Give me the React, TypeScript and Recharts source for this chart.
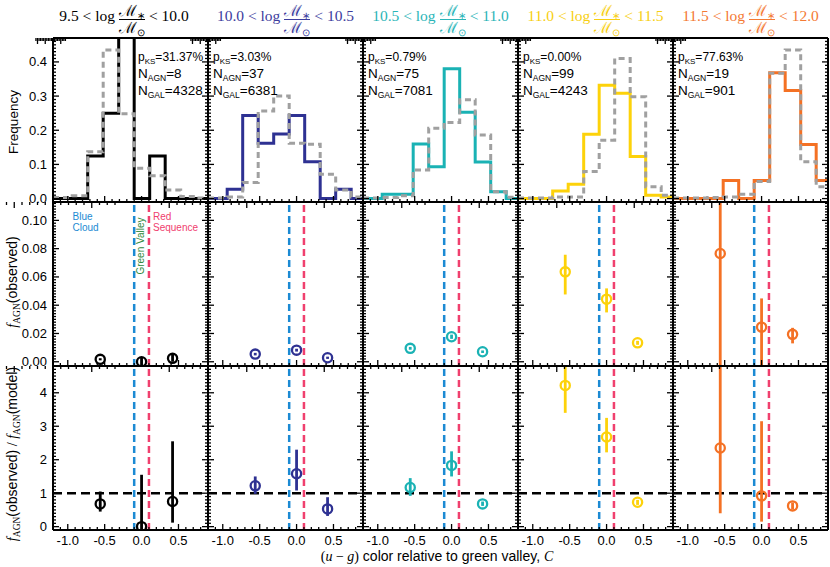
import React from 'react';
import { ComposedChart, Line, Scatter, XAxis, YAxis, ReferenceLine, ErrorBar } from 'recharts';

// ---------- categories / labels ----------
const massLow = ['9.5', '10.0', '10.5', '11.0', '11.5'];
const massHigh = ['10.0', '10.5', '11.0', '11.5', '12.0'];
const pKS = ['31.37%', '3.03%', '0.79%', '0.00%', '77.63%'];
const nAGN = ['8', '37', '75', '99', '19'];
const nGAL = ['4328', '6381', '7081', '4243', '901'];

// ---------- colours ----------
const seriesColors = ['#000000', '#2e3192', '#1ab2b4', '#fdd20a', '#f47124'];
const titleColors = ['#000000', '#3d3d9e', '#2bb5b8', '#f7cf12', '#f47a34'];
const galColor = '#a0a0a0';
const blueCloudColor = '#1c8ad3';
const redSeqColor = '#f0406e';
const greenValleyColor = '#2f8a3c';

// ---------- histogram bins (colour C) ----------
const binEdges = [-1.2, -0.94, -0.73, -0.52, -0.31, -0.1, 0.11, 0.32, 0.53, 0.74, 0.9];

// AGN-host frequency per mass bin (one row per column)
const agnHist = [
  [0, 0, 0.125, 0.25, 0.5, 0, 0.125, 0, 0, 0],
  [0, 0.027, 0.243, 0.162, 0.189, 0.243, 0.108, 0, 0.027, 0],
  [0, 0.013, 0.013, 0.16, 0.093, 0.38, 0.253, 0.107, 0.02, 0],
  [0, 0, 0.022, 0.042, 0.188, 0.332, 0.308, 0.123, 0.01, 0.005],
  [0, 0, 0, 0.053, 0, 0.053, 0.368, 0.316, 0.158, 0.053],
];
// all-galaxy frequency per mass bin
const galHist = [
  [0.003, 0.008, 0.137, 0.435, 0.248, 0.089, 0.067, 0.025, 0.006, 0.002],
  [0.002, 0.005, 0.047, 0.256, 0.3, 0.162, 0.159, 0.071, 0.025, 0.005],
  [0.002, 0.003, 0.008, 0.084, 0.206, 0.223, 0.289, 0.186, 0.02, 0.004],
  [0.002, 0.002, 0.005, 0.005, 0.079, 0.171, 0.41, 0.298, 0.035, 0.01],
  [0.002, 0.002, 0.003, 0.005, 0.013, 0.05, 0.367, 0.435, 0.108, 0.035],
];

// ---------- f_AGN points ----------
const colorBins = [-0.56, 0.0, 0.42];
const fObs = [
  [0.0017, 0.0, 0.0024],
  [0.0054, 0.0082, 0.0028],
  [0.0095, 0.0177, 0.0071],
  [0.0636, 0.0443, 0.0134],
  [0.0766, 0.0245, 0.0194],
];
const fObsLo = [
  [0.001, -0.003, 0.0],
  [0.0045, 0.0072, 0.002],
  [0.0085, 0.0162, 0.0062],
  [0.0476, 0.0349, 0.012],
  [-0.003, -0.003, 0.013],
];
const fObsHi = [
  [0.0025, 0.0028, 0.005],
  [0.0063, 0.0092, 0.0036],
  [0.0105, 0.0192, 0.008],
  [0.0757, 0.0519, 0.0148],
  [0.113, 0.0448, 0.024],
];
const fRatio = [
  [0.68, 0.0, 0.75],
  [1.22, 1.58, 0.53],
  [1.17, 1.83, 0.68],
  [4.22, 2.68, 0.73],
  [2.35, 0.92, 0.62],
];
const fRatioLo = [
  [0.45, -0.1, 0.12],
  [0.98, 1.08, 0.32],
  [0.92, 1.5, 0.62],
  [3.4, 2.22, 0.65],
  [0.4, 0.15, 0.52],
];
const fRatioHi = [
  [1.05, 1.55, 2.55],
  [1.5, 2.3, 0.88],
  [1.45, 2.25, 0.75],
  [4.8, 3.25, 0.8],
  [4.8, 3.15, 0.72],
];

const gvBounds = [-0.1, 0.1];
const ratioUnity = 1;

// ---------- axes ----------
const X_DOMAIN: [number, number] = [-1.2, 0.9];
const xMajor = [-1.0, -0.5, 0.0, 0.5];
const xMajorLabels = ['-1.0', '-0.5', '0.0', '0.5'];
const Y_DOMAINS: [number, number][] = [[-0.01, 0.47], [-0.003, 0.113], [-0.1, 4.8]];
const yMajor = [
  [0, 0.1, 0.2, 0.3, 0.4],
  [0, 0.02, 0.04, 0.06, 0.08, 0.1],
  [0, 1, 2, 3, 4],
];
const yMajorLabels = [
  ['0.0', '0.1', '0.2', '0.3', '0.4'],
  ['0.00', '0.02', '0.04', '0.06', '0.08', '0.10'],
  ['0', '1', '2', '3', '4'],
];

function tickRange(lo: number, hi: number, step: number) {
  const out: number[] = [];
  const n = Math.round((hi - lo) / step);
  for (let i = 0; i <= n; i++) out.push(+(lo + i * step).toFixed(6));
  return out;
}
const xTicks = tickRange(-1.1, 0.8, 0.1);
const yTicks = [tickRange(0, 0.46, 0.01), tickRange(0, 0.112, 0.002), tickRange(0, 4.7, 0.1)];

// ---------- layout ----------
const PLOT_LEFTS = [53, 208, 363, 518, 673];
const PLOT_TOPS = [38, 202, 366];
const PW = 155;
const PH = 164;
const M = 50;
const titleCenters = [124, 285.5, 440.5, 595.5, 750.5];

const SANS = '"Liberation Sans", Arial, Helvetica, sans-serif';
const SERIF = '"Liberation Serif", "Times New Roman", serif';

const AXIS_LINE = { stroke: '#000', strokeWidth: 2 };

function makeTick(side: string, majors: number[], labels: string[] | null) {
  return (props: any) => {
    const { x, y, payload } = props;
    const v = payload.value;
    const mi = majors.findIndex((m) => Math.abs(m - v) < 1e-9);
    const L = mi >= 0 ? 6 : 3;
    let x2 = x;
    let y2 = y;
    if (side === 'bottom') y2 = y - L;
    else if (side === 'top') y2 = y + L;
    else if (side === 'left') x2 = x + L;
    else x2 = x - L;
    let label = null;
    if (labels && mi >= 0) {
      if (side === 'bottom') {
        label = (
          <text x={x} y={y + 15} textAnchor="middle" fontSize={13} fontFamily={SANS} fill="#000">
            {labels[mi]}
          </text>
        );
      } else if (side === 'left') {
        label = (
          <text x={x - 6} y={y + 4.5} textAnchor="end" fontSize={13} fontFamily={SANS} fill="#000">
            {labels[mi]}
          </text>
        );
      }
    }
    return (
      <g>
        <line x1={x} y1={y} x2={x2} y2={y2} stroke="#000" strokeWidth={1.3} />
        {label}
      </g>
    );
  };
}

function histData(col: number) {
  return binEdges.map((e, i) => ({
    x: e,
    agn: agnHist[col][Math.min(i, agnHist[col].length - 1)],
    gal: galHist[col][Math.min(i, galHist[col].length - 1)],
  }));
}

function pointData(vals: number[], lo: number[], hi: number[]) {
  return colorBins.map((c, i) => ({ x: c, y: vals[i], err: [vals[i] - lo[i], hi[i] - vals[i]] }));
}

function Panel({ row, col }: { row: number; col: number }) {
  const color = seriesColors[col];
  const yDom = Y_DOMAINS[row];
  const commonX = {
    type: 'number' as const,
    domain: X_DOMAIN,
    allowDataOverflow: true,
    ticks: xTicks,
    interval: 0 as const,
    tickSize: 0,
    tickMargin: 0,
    tickLine: false,
    mirror: true,
    axisLine: AXIS_LINE,
    height: 10,
  };
  const commonY = {
    type: 'number' as const,
    domain: yDom,
    allowDataOverflow: true,
    ticks: yTicks[row],
    interval: 0 as const,
    tickSize: 0,
    tickMargin: 0,
    tickLine: false,
    mirror: true,
    axisLine: AXIS_LINE,
    width: 10,
  };
  const points =
    row === 1
      ? pointData(fObs[col], fObsLo[col], fObsHi[col])
      : row === 2
      ? pointData(fRatio[col], fRatioLo[col], fRatioHi[col])
      : [];
  return (
    <div style={{ position: 'absolute', left: PLOT_LEFTS[col] - M, top: PLOT_TOPS[row] - M }}>
      <ComposedChart
        width={PW + 2 * M}
        height={PH + 2 * M}
        margin={{ top: M, right: M, bottom: M, left: M }}
        data={row === 0 ? histData(col) : points}
      >
        <XAxis
          {...commonX}
          xAxisId="b"
          dataKey="x"
          orientation="bottom"
          tick={makeTick('bottom', xMajor, row === 2 ? xMajorLabels : null)}
        />
        <XAxis {...commonX} xAxisId="t" orientation="top" tick={makeTick('top', xMajor, null)} />
        <YAxis
          {...commonY}
          yAxisId="l"
          dataKey="y"
          orientation="left"
          tick={makeTick('left', yMajor[row], col === 0 ? yMajorLabels[row] : null)}
        />
        <YAxis {...commonY} yAxisId="r" orientation="right" tick={makeTick('right', yMajor[row], null)} />
        {row > 0 &&
          gvBounds.map((g, i) => (
            <ReferenceLine
              key={'gv' + i}
              xAxisId="b"
              yAxisId="l"
              x={g}
              stroke={i === 0 ? blueCloudColor : redSeqColor}
              strokeWidth={2.5}
              strokeDasharray="7 4"
            />
          ))}
        {row === 2 && (
          <ReferenceLine
            xAxisId="b"
            yAxisId="l"
            y={ratioUnity}
            stroke="#000"
            strokeWidth={2.5}
            strokeDasharray="9 5"
          />
        )}
        {row === 0 && (
          <Line
            xAxisId="b"
            yAxisId="l"
            type="stepAfter"
            dataKey="agn"
            stroke={color}
            strokeWidth={3}
            dot={false}
            activeDot={false}
            isAnimationActive={false}
          />
        )}
        {row === 0 && (
          <Line
            xAxisId="b"
            yAxisId="l"
            type="stepAfter"
            dataKey="gal"
            stroke={galColor}
            strokeWidth={3}
            strokeDasharray="6 4"
            dot={false}
            activeDot={false}
            isAnimationActive={false}
          />
        )}
        {row > 0 && (
          <Scatter
            xAxisId="b"
            yAxisId="l"
            dataKey="y"
            isAnimationActive={false}
            shape={(p: any) => (
              <circle cx={p.cx} cy={p.cy} r={4.6} fill="none" stroke={color} strokeWidth={2.3} />
            )}
          >
            <ErrorBar dataKey="err" direction="y" width={0} stroke={color} strokeWidth={2.8} isAnimationActive={false} />
          </Scatter>
        )}
      </ComposedChart>
    </div>
  );
}

function MassTitle({ col }: { col: number }) {
  const c = titleColors[col];
  const sub = { fontSize: 10, position: 'relative' as const, top: 3 };
  return (
    <div
      style={{
        position: 'absolute',
        left: titleCenters[col] - 100,
        top: 0,
        width: 200,
        height: 38,
        display: 'flex',
        alignItems: 'center',
        justifyContent: 'center',
        color: c,
        fontFamily: SERIF,
        fontSize: 15.5,
        whiteSpace: 'nowrap',
      }}
    >
      <span style={{ position: 'relative', top: -3 }}>
        {massLow[col]}&nbsp;&lt;&nbsp;log
      </span>
      <span style={{ display: 'inline-flex', flexDirection: 'column', alignItems: 'center', margin: '0 4px' }}>
        <span style={{ lineHeight: '16px', height: 16 }}>
          ℳ<span style={sub}>∗</span>
        </span>
        <span style={{ borderTop: `1px solid ${c}`, alignSelf: 'stretch', height: 0 }} />
        <span style={{ lineHeight: '16px', height: 16 }}>
          ℳ<span style={sub}>⊙</span>
        </span>
      </span>
      <span style={{ position: 'relative', top: -3 }}>
        &lt;&nbsp;{massHigh[col]}
      </span>
    </div>
  );
}

function Overlay() {
  return (
    <svg width={830} height={567} style={{ position: 'absolute', left: 0, top: 0, pointerEvents: 'none' }}>
      {massLow.map((_, col) => {
        const x = col === 0 ? 138 : PLOT_LEFTS[col] + 5;
        return (
          <g key={'ann' + col} fontFamily={SANS} fill="#000">
            <text x={x} y={61} fontSize={12}>
              p<tspan fontSize={8} dy={2.5}>KS</tspan>
              <tspan dy={-2.5}>={pKS[col]}</tspan>
            </text>
            <text x={x} y={78} fontSize={13.5}>
              N<tspan fontSize={8.5} dy={3}>AGN</tspan>
              <tspan dy={-3}>={nAGN[col]}</tspan>
            </text>
            <text x={x} y={95} fontSize={13.5}>
              N<tspan fontSize={8.5} dy={3}>GAL</tspan>
              <tspan dy={-3}>={nGAL[col]}</tspan>
            </text>
          </g>
        );
      })}
      {/* region labels */}
      <g fontFamily={SANS} fontSize={10}>
        <text x={72.5} y={219.5} fill={blueCloudColor}>Blue</text>
        <text x={72.5} y={231} fill={blueCloudColor}>Cloud</text>
        <text x={153} y={219.5} fill={redSeqColor}>Red</text>
        <text x={153} y={231} fill={redSeqColor}>Sequence</text>
        <text x={143.5} y={246} fill={greenValleyColor} textAnchor="middle" transform="rotate(-90 143.5 246)">
          Green Valley
        </text>
      </g>
      {/* y titles */}
      <text x={18} y={122} textAnchor="middle" fontFamily={SANS} fontSize={13.5} transform="rotate(-90 18 122)">
        Frequency
      </text>
      <text x={17} y={282} textAnchor="middle" fontSize={14} transform="rotate(-90 17 282)">
        <tspan fontFamily={SERIF} fontStyle="italic">f</tspan>
        <tspan fontFamily={SERIF} fontSize={9.5} dy={3}>AGN</tspan>
        <tspan fontFamily={SANS} dy={-3}>(observed)</tspan>
      </text>
      <text x={17} y={454} textAnchor="middle" fontSize={14} transform="rotate(-90 17 454)">
        <tspan fontFamily={SERIF} fontStyle="italic">f</tspan>
        <tspan fontFamily={SERIF} fontSize={9.5} dy={3}>AGN</tspan>
        <tspan fontFamily={SANS} dy={-3}>(observed)</tspan>
        <tspan fontFamily={SERIF}> / </tspan>
        <tspan fontFamily={SERIF} fontStyle="italic">f</tspan>
        <tspan fontFamily={SERIF} fontSize={9.5} dy={3}>AGN</tspan>
        <tspan fontFamily={SANS} dy={-3}>(model)</tspan>
      </text>
      {/* x title */}
      <text x={437} y={561} textAnchor="middle" fontSize={14}>
        <tspan fontFamily={SERIF}>(</tspan>
        <tspan fontFamily={SERIF} fontStyle="italic">u</tspan>
        <tspan fontFamily={SERIF}> − </tspan>
        <tspan fontFamily={SERIF} fontStyle="italic">g</tspan>
        <tspan fontFamily={SERIF}>)</tspan>
        <tspan fontFamily={SANS}> color relative to green valley, </tspan>
        <tspan fontFamily={SERIF} fontStyle="italic">C</tspan>
      </text>
    </svg>
  );
}

export default function App() {
  const panels = [];
  for (let row = 0; row < 3; row++) {
    for (let col = 0; col < 5; col++) {
      panels.push(<Panel key={`p${row}-${col}`} row={row} col={col} />);
    }
  }
  return (
    <div
      style={{
        position: 'absolute',
        left: 0,
        top: 0,
        width: 830,
        height: 567,
        background: '#fff',
        overflow: 'hidden',
      }}
    >
      {massLow.map((_, col) => (
        <MassTitle key={'t' + col} col={col} />
      ))}
      {panels}
      <Overlay />
    </div>
  );
}
